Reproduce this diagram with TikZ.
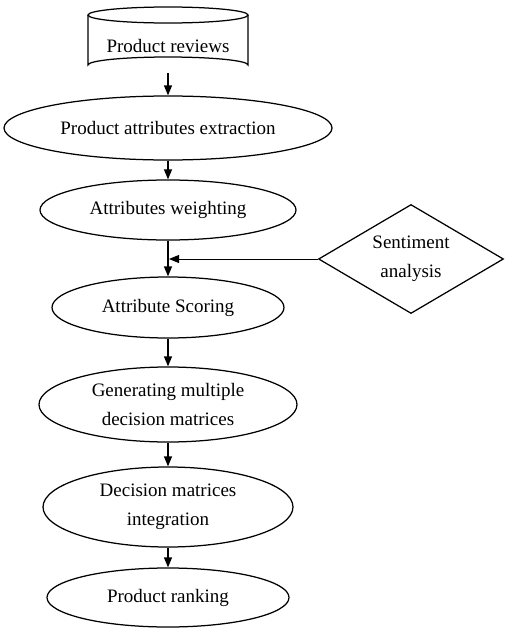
\documentclass[tikz,border=0pt]{standalone}
\usepackage{fontspec}
\setmainfont{Liberation Serif}
\usetikzlibrary{shapes.geometric,arrows.meta}
\begin{document}
\begin{tikzpicture}[x=1pt,y=-1pt,
  line width=1.25pt,
  every node/.style={font=\fontsize{19}{28.5}\selectfont},
  proc/.style={ellipse,draw,inner sep=0pt,align=center},
  arr/.style={-{Triangle[length=10pt,width=8pt]}},
  thin/.style={line width=0.9pt}]
\useasboundingbox (0,0) rectangle (504,629);
% cylinder
\draw (88,15) -- (88,65) arc[start angle=180,end angle=360,x radius=80,y radius=8] -- (248,15);
\draw (168,15) ellipse[x radius=80,y radius=8];
\node (rev) at (168,46) {Product reviews};
\coordinate (revb) at (168,73);
% process ellipses
\node[proc,minimum width=328pt,minimum height=64pt] (e2) at (168,128) {Product attributes extraction};
\node[proc,minimum width=256pt,minimum height=60pt] (e3) at (168,210) {Attributes weighting};
\node[proc,minimum width=232pt,minimum height=61pt] (e4) at (168,307.5) {Attribute Scoring};
\node[proc,minimum width=258pt,minimum height=75pt] (e5) at (168,404.5) {Generating multiple\\decision matrices};
\node[proc,minimum width=250pt,minimum height=80pt] (e6) at (168,507) {Decision matrices\\integration};
\node[proc,minimum width=242pt,minimum height=59pt] (e7) at (168,597.5) {Product ranking};
% diamond
\node[diamond,draw,inner sep=0pt,aspect=1.7,minimum width=185pt,minimum height=109pt,align=center] (sa) at (411,259) {Sentiment\\analysis};
\coordinate (j) at (169,259);
% connectors
\draw[arr] (revb) -- (e2.north);
\draw[arr] (e2.south) -- (e3.north);
\draw[arr] (e3.south) -- (e4.north);
\draw[arr,thin] (sa.west) -- (j);
\draw[arr] (e4.south) -- (e5.north);
\draw[arr] (e5.south) -- (e6.north);
\draw[arr] (e6.south) -- (e7.north);
\end{tikzpicture}
\end{document}
